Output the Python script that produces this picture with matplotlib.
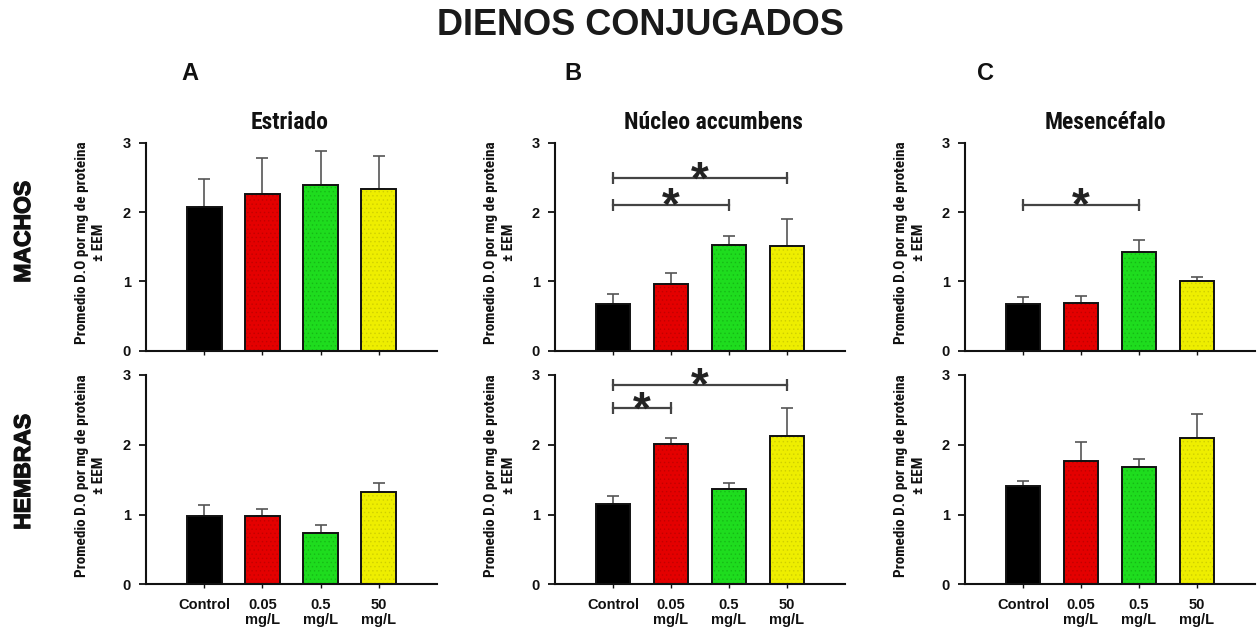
import matplotlib
matplotlib.use("Agg")
import matplotlib.pyplot as plt
from matplotlib import transforms
from matplotlib import patheffects

# ---- data -------------------------------------------------------------
groups = ["Control", "0.05\nmg/L", "0.5\nmg/L", "50\nmg/L"]

machos_estriado = [2.08, 2.27, 2.39, 2.34]
machos_estriado_eem = [0.40, 0.51, 0.50, 0.47]
machos_accumbens = [0.68, 0.96, 1.53, 1.51]
machos_accumbens_eem = [0.14, 0.16, 0.13, 0.39]
machos_mesencefalo = [0.67, 0.69, 1.43, 1.00]
machos_mesencefalo_eem = [0.10, 0.10, 0.17, 0.07]

hembras_estriado = [0.98, 0.98, 0.74, 1.32]
hembras_estriado_eem = [0.16, 0.10, 0.11, 0.13]
hembras_accumbens = [1.15, 2.01, 1.37, 2.12]
hembras_accumbens_eem = [0.12, 0.08, 0.08, 0.40]
hembras_mesencefalo = [1.41, 1.77, 1.68, 2.09]
hembras_mesencefalo_eem = [0.07, 0.27, 0.12, 0.35]

# significant comparisons: (group i, group j, bracket height)
sig_machos_accumbens = [(0, 3, 2.49), (0, 2, 2.11)]
sig_machos_mesencefalo = [(0, 2, 2.11)]
sig_hembras_accumbens = [(0, 3, 2.86), (0, 1, 2.52)]

regions = ["Estriado", "Núcleo accumbens", "Mesencéfalo"]
panel_letters = ["A", "B", "C"]
rows = ["MACHOS", "HEMBRAS"]
y_ticks = [0, 1, 2, 3]
y_label = "Promedio D.O por mg de proteina\n± EEM"

# ---- style ------------------------------------------------------------
W, H = 1258, 632
bar_colors = ["#000000", "#e40000", "#1edc1e", "#eeee00"]
dot_colors = ["#000000", "#a80000", "#0fa00f", "#b8b800"]
plain = "Liberation Sans"
narrow = "Roboto Condensed"
plt.rcParams["hatch.linewidth"] = 0.6

fig = plt.figure(figsize=(W / 100, H / 100), dpi=100)


def px(x, y):
    return x / W, 1 - y / H


def axes_rect(left, right, top, bottom):
    return [left / W, 1 - bottom / H, (right - left) / W, (bottom - top) / H]


col_x = [(146, 437), (555, 845), (965, 1255)]
row_y = [(143, 350.7), (375, 584.3)]

panel_data = [
    [(machos_estriado, machos_estriado_eem, []),
     (machos_accumbens, machos_accumbens_eem, sig_machos_accumbens),
     (machos_mesencefalo, machos_mesencefalo_eem, sig_machos_mesencefalo)],
    [(hembras_estriado, hembras_estriado_eem, []),
     (hembras_accumbens, hembras_accumbens_eem, sig_hembras_accumbens),
     (hembras_mesencefalo, hembras_mesencefalo_eem, [])],
]

pos = list(range(len(groups)))

for r, row in enumerate(panel_data):
    for c, (means, eem, sigs) in enumerate(row):
        ax = fig.add_axes(axes_rect(col_x[c][0], col_x[c][1], row_y[r][0], row_y[r][1]))
        ax.errorbar(pos, means, yerr=[[0] * len(eem), eem], fmt="none",
                    ecolor="#555555", elinewidth=1.2, capsize=4, capthick=1.2, zorder=1)
        ax.bar(pos, means, width=0.6, color=bar_colors, edgecolor="none", zorder=2)
        ax.bar(pos, means, width=0.6, color="none", edgecolor=dot_colors,
               hatch="....", linewidth=0, alpha=0.45, zorder=3)
        ax.bar(pos, means, width=0.6, color="none", edgecolor="#111111",
               linewidth=1.4, zorder=4)

        for i, j, h in sigs:
            ax.plot([pos[i], pos[j]], [h, h], color="#444444", lw=1.6,
                    clip_on=False, zorder=5)
            ax.plot([pos[i], pos[j]], [h, h], linestyle="none", marker="|", ms=9,
                    mew=1.6, color="#444444", clip_on=False, zorder=5)
            star_tr = transforms.offset_copy(ax.transData, fig=fig, x=0, y=-11, units="points")
            ax.text((pos[i] + pos[j]) / 2, h, "*", transform=star_tr, ha="center",
                    va="baseline", fontsize=33, fontweight="bold", family=plain,
                    color="#222222", clip_on=False, zorder=6)

        ax.set_xlim(-1, 4)
        ax.set_ylim(0, 3)
        ax.set_yticks(y_ticks)
        ax.set_xticks(pos)
        for side in ("top", "right"):
            ax.spines[side].set_visible(False)
        for side in ("left", "bottom"):
            ax.spines[side].set_linewidth(1.5)
            ax.spines[side].set_color("#111111")
        ax.tick_params(axis="y", direction="out", length=5, width=1.3, pad=6,
                       labelsize=10.5, colors="#111111")
        ax.tick_params(axis="x", direction="out", length=3, width=1, pad=7,
                       labelsize=10.5, colors="#111111")
        if r == 1:
            ax.set_xticklabels(groups, linespacing=1.05)
        else:
            ax.set_xticklabels([])
        for lab in ax.get_xticklabels() + ax.get_yticklabels():
            lab.set_fontfamily(plain)
            lab.set_fontweight("bold")

        ax.text(-0.190, 0.52, y_label, transform=ax.transAxes, rotation=90,
                ha="center", va="center", fontsize=11, fontweight="bold",
                family=narrow, linespacing=1.3, color="#111111")

# titles and labels
fig.text(*px(640, 35), "DIENOS CONJUGADOS", ha="center", va="baseline",
         fontsize=26, fontweight="bold", family=plain, color="#1a1a1a")
for letter, x in zip(panel_letters, [190, 573, 985]):
    fig.text(*px(x, 80), letter, ha="center", va="baseline", fontsize=17,
             fontweight="bold", family=plain, color="#111111")
for region, x in zip(regions, [290, 713, 1105]):
    fig.text(*px(x, 129), region, ha="center", va="baseline", fontsize=17,
             fontweight="bold", family=narrow, color="#111111")
thick = [patheffects.withStroke(linewidth=0.9, foreground="#111111")]
for name, y in zip(rows, [232, 472]):
    fig.text(*px(23.5, y), name, ha="center", va="center", rotation=90,
             fontsize=16.5, fontweight="bold", family=plain, color="#111111",
             path_effects=thick)

fig.savefig("out.png", dpi=100)
